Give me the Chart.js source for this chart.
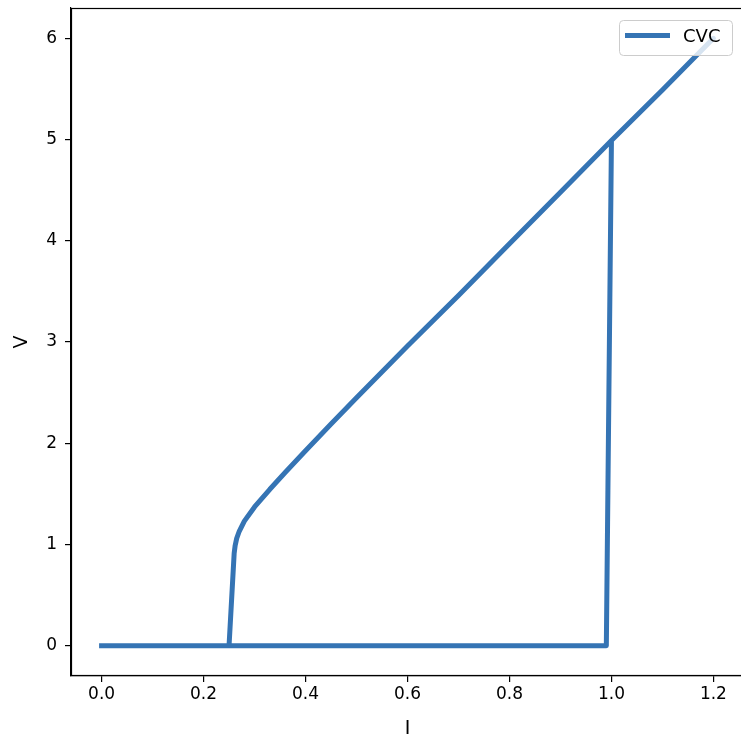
<!DOCTYPE html>
<html>
<head>
<meta charset="utf-8">
<script src="https://cdn.jsdelivr.net/npm/chart.js@4.4.1/dist/chart.umd.min.js"></script>
<style>
  html, body { margin: 0; padding: 0; background: #fff; overflow: hidden; }
  #wrap { width: 746px; height: 734px; }
</style>
</head>
<body>
<div id="wrap"><canvas id="c" width="746" height="734"></canvas></div>
<script>
// ---- data ----
const currentI = [0.00, 0.25, 0.50, 0.75, 0.99, 1.00, 1.10, 1.20, 1.10, 1.00, 0.90, 0.80, 0.70, 0.60, 0.50, 0.45, 0.40, 0.36, 0.33, 0.30, 0.28, 0.27, 0.265, 0.262, 0.26, 0.25, 0.00];
const voltageV = [0.00, 0.00, 0.00, 0.00, 0.00, 4.99, 5.49, 6.00, 5.49, 4.99, 4.48, 3.97, 3.46, 2.96, 2.45, 2.19, 1.925, 1.71, 1.545, 1.37, 1.23, 1.13, 1.06, 0.99, 0.91, 0.00, 0.00];
const xTicks = [0.0, 0.2, 0.4, 0.6, 0.8, 1.0, 1.2];
const yTicks = [0, 1, 2, 3, 4, 5, 6];
const seriesName = 'CVC';
const xTitle = 'I';
const yTitle = 'V';

const FONT = "'DejaVu Sans', 'Liberation Sans', sans-serif";
const LINE_COLOR = '#3574b4';

const points = currentI.map((x, i) => ({ x: x, y: voltageV[i] }));

const framePlugin = {
  id: 'frame',
  afterDatasetsDraw(chart) {
    const { ctx, chartArea: a } = chart;
    ctx.save();
    ctx.strokeStyle = '#000';
    ctx.lineWidth = 1.2;
    ctx.strokeRect(a.left + 0.5, a.top + 0.5, a.right - a.left - 1, a.bottom - a.top - 1);
    ctx.restore();
  }
};

const legendPlugin = {
  id: 'innerLegend',
  afterDraw(chart) {
    const { ctx } = chart;
    const x0 = 619.5, y0 = 20.5, w = 113, h = 35, r = 4;
    ctx.save();
    ctx.beginPath();
    ctx.moveTo(x0 + r, y0);
    ctx.lineTo(x0 + w - r, y0);
    ctx.arcTo(x0 + w, y0, x0 + w, y0 + r, r);
    ctx.lineTo(x0 + w, y0 + h - r);
    ctx.arcTo(x0 + w, y0 + h, x0 + w - r, y0 + h, r);
    ctx.lineTo(x0 + r, y0 + h);
    ctx.arcTo(x0, y0 + h, x0, y0 + h - r, r);
    ctx.lineTo(x0, y0 + r);
    ctx.arcTo(x0, y0, x0 + r, y0, r);
    ctx.closePath();
    ctx.fillStyle = 'rgba(255,255,255,0.8)';
    ctx.fill();
    ctx.strokeStyle = '#cccccc';
    ctx.lineWidth = 1;
    ctx.stroke();
    ctx.beginPath();
    ctx.moveTo(625, 35.5);
    ctx.lineTo(670, 35.5);
    ctx.strokeStyle = LINE_COLOR;
    ctx.lineWidth = 5;
    ctx.lineCap = 'butt';
    ctx.stroke();
    ctx.fillStyle = '#000';
    ctx.font = '18px ' + FONT;
    ctx.textBaseline = 'middle';
    ctx.textAlign = 'left';
    ctx.fillText(seriesName, 683, 37);
    ctx.restore();
  }
};

new Chart(document.getElementById('c'), {
  type: 'scatter',
  data: {
    datasets: [{
      label: seriesName,
      data: points,
      showLine: true,
      borderColor: LINE_COLOR,
      backgroundColor: LINE_COLOR,
      borderWidth: 5,
      pointRadius: 0,
      pointHoverRadius: 0,
      tension: 0,
      borderJoinStyle: 'round',
      borderCapStyle: 'square'
    }]
  },
  options: {
    responsive: false,
    devicePixelRatio: 1,
    animation: false,
    events: [],
    layout: { padding: { left: 0, top: 8, right: 2, bottom: 0 } },
    plugins: {
      legend: { display: false },
      tooltip: { enabled: false }
    },
    scales: {
      x: {
        type: 'linear',
        min: -0.06,
        max: 1.26,
        afterBuildTicks: s => { s.ticks = xTicks.map(v => ({ value: v })); },
        afterFit: s => { s.height = 58; s.paddingLeft = 0; s.paddingRight = 0; },
        ticks: {
          callback: v => Number(v).toFixed(1),
          font: { family: FONT, size: 17 },
          color: '#000',
          padding: 2,
          maxRotation: 0,
          autoSkip: false
        },
        grid: { display: true, drawOnChartArea: false, drawTicks: true, tickLength: 6, color: '#000', lineWidth: 1.2 },
        border: { display: true, color: '#000', width: 1.2 },
        title: { display: true, text: xTitle, font: { family: FONT, size: 19 }, color: '#000', padding: { top: 0, bottom: -6 } }
      },
      y: {
        type: 'linear',
        min: -0.3,
        max: 6.3,
        afterBuildTicks: s => { s.ticks = yTicks.map(v => ({ value: v })); },
        afterFit: s => { s.width = 71; s.paddingTop = 0; s.paddingBottom = 0; },
        ticks: {
          callback: v => String(v),
          font: { family: FONT, size: 17 },
          color: '#000',
          padding: 8,
          autoSkip: false
        },
        grid: { display: true, drawOnChartArea: false, drawTicks: true, tickLength: 6, color: '#000', lineWidth: 1.2 },
        border: { display: true, color: '#000', width: 1.2 },
        title: { display: true, text: yTitle, font: { family: FONT, size: 19 }, color: '#000', padding: { top: 11, bottom: 0 } }
      }
    }
  },
  plugins: [framePlugin, legendPlugin]
});
</script>
</body>
</html>
